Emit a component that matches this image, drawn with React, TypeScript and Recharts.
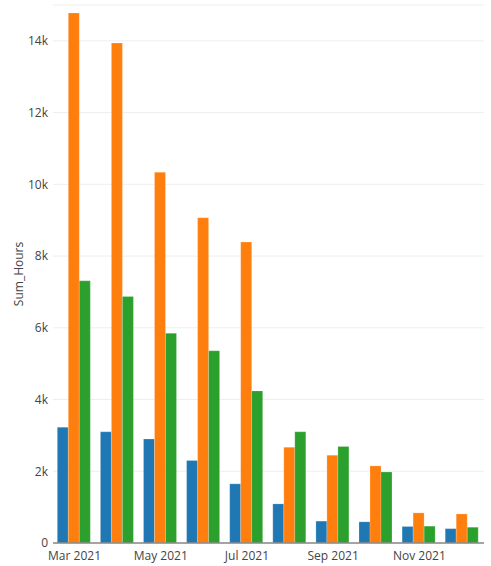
import { BarChart, Bar, XAxis, YAxis, CartesianGrid } from 'recharts'

// Monthly sum of hours, three groups per month (values in hours)
const months = ['Mar 2021', 'Apr 2021', 'May 2021', 'Jun 2021', 'Jul 2021', 'Aug 2021', 'Sep 2021', 'Oct 2021', 'Nov 2021', 'Dec 2021']
const blueHours = [3230, 3100, 2900, 2300, 1650, 1090, 610, 590, 460, 400]
const orangeHours = [14780, 13940, 10340, 9070, 8390, 2670, 2450, 2150, 840, 810]
const greenHours = [7310, 6870, 5850, 5360, 4240, 3100, 2690, 1980, 470, 440]
const yTicks = [0, 2000, 4000, 6000, 8000, 10000, 12000, 14000]

const font = '"Open Sans", Arial, sans-serif'

const data = months.map((m, i) => ({
  month: m,
  blue: blueHours[i],
  orange: orangeHours[i],
  green: greenHours[i],
}))

const fmtK = (v: number) => (v === 0 ? '0' : `${v / 1000}k`)

export default function App() {
  return (
    <div style={{ position: 'absolute', left: 0, top: 0, width: 491, height: 566, background: '#fff', fontFamily: font }}>
      <BarChart width={491} height={566} data={data}
                margin={{ top: 5, right: 7, left: 4, bottom: 3 }}
                barCategoryGap="10%" barGap={0}>
        <CartesianGrid stroke="#eee" vertical={false} />
        <XAxis dataKey="month" interval={1} height={20}
               tick={{ fill: '#444', fontSize: 12, fontFamily: font }}
               tickLine={false} axisLine={{ stroke: '#888', strokeWidth: 1.5 }} />
        <YAxis domain={[0, 15000]} ticks={yTicks} width={49} tickFormatter={fmtK}
               tick={{ fill: '#444', fontSize: 12, fontFamily: font, dx: 3 }}
               tickLine={false} axisLine={false}
               label={{ value: 'Sum_Hours', angle: -90, position: 'center', dx: -10, fill: '#444', fontSize: 12, fontFamily: font }} />
        <Bar dataKey="blue" fill="#1f77b4" stroke="rgba(255,255,255,0.4)" strokeWidth={0.5} isAnimationActive={false} />
        <Bar dataKey="orange" fill="#ff7f0e" stroke="rgba(255,255,255,0.4)" strokeWidth={0.5} isAnimationActive={false} />
        <Bar dataKey="green" fill="#2ca02c" stroke="rgba(255,255,255,0.4)" strokeWidth={0.5} isAnimationActive={false} />
      </BarChart>
    </div>
  )
}
